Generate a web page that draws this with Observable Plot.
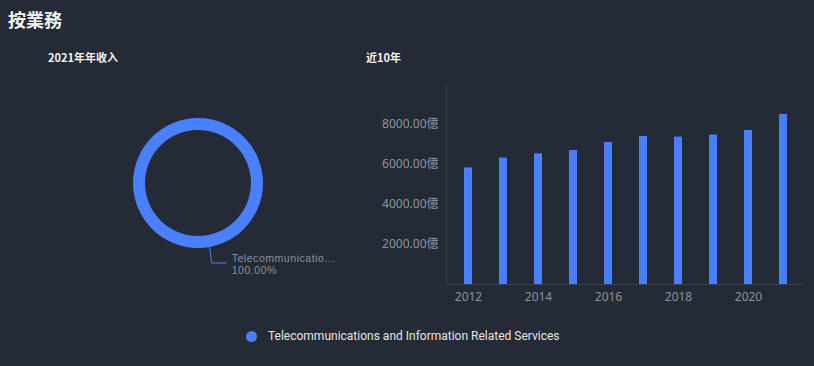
<!DOCTYPE html>
<html><head><meta charset="utf-8">
<script src="https://cdn.jsdelivr.net/npm/d3@7"></script>
<script src="https://cdn.jsdelivr.net/npm/@observablehq/plot@0.6"></script>
<style>
html,body{margin:0;padding:0;background:#252b36;width:814px;height:366px;overflow:hidden;font-family:"Noto Sans","Noto Sans CJK SC",sans-serif;}
#wrap{position:relative;width:814px;height:366px;}
.t{position:absolute;color:#f2f2f2;white-space:nowrap;}
#title{left:8px;top:6px;font-size:18px;font-weight:bold;font-family:"Noto Sans CJK SC",sans-serif;}
#sub1{left:48px;top:49px;font-size:11px;font-weight:bold;font-family:"Noto Sans CJK SC",sans-serif;}
#sub2{left:366px;top:49px;font-size:11px;font-weight:bold;font-family:"Noto Sans CJK SC",sans-serif;}
#donut{position:absolute;left:0;top:70px;}
#bars{position:absolute;left:360px;top:70px;}
#legend{position:absolute;left:246px;top:329px;font-size:12px;color:#e6e6e6;display:flex;align-items:center;font-family:Roboto,"Noto Sans",sans-serif;}
#legend .dot{width:11px;height:11px;border-radius:50%;background:#4a80ff;margin-right:11px;}
</style></head>
<body><div id="wrap">
<div class="t" id="title">按業務</div>
<div class="t" id="sub1">2021年年收入</div>
<div class="t" id="sub2">近10年</div>
<div id="donut"></div>
<div id="bars"></div>
<div id="legend"><span class="dot"></span><span id="legtext"></span></div>
</div>
<script>
// Data
const segments = ["Telecommunications and Information Related Services"];
const shares = [100];
const years = [2012,2013,2014,2015,2016,2017,2018,2019,2020,2021];
const revenue = [5830,6320,6530,6700,7100,7400,7370,7470,7700,8500];
const yTicks = [2000,4000,6000,8000];
const xTickYears = [2012,2014,2016,2018,2020];

const blue = "#4a80ff";
const axisColor = "#354052";
const labelColor = "#8a929e";

document.getElementById("legtext").textContent = segments[0];

// Donut
const pieData = segments.map((s,i)=>({name:s, value:shares[i]}));
const donutMark = () => {
  const g = d3.create("svg:g").attr("transform","translate(198,113)");
  const arcs = d3.pie().value(d=>d.value).sort(null)(pieData);
  const arc = d3.arc().innerRadius(53).outerRadius(65);
  g.selectAll("path.slice").data(arcs).join("path").attr("class","slice").attr("d",arc).attr("fill",blue);
  arcs.forEach(a=>{
    const ang = (a.startAngle + a.endAngle)/2 - 0.18;
    const x0 = 65*Math.sin(ang), y0 = -65*Math.cos(ang);
    g.append("path").attr("d",`M${x0},${y0}L${x0+2},${y0+16}L${x0+17},${y0+16}`)
      .attr("fill","none").attr("stroke",blue).attr("stroke-width",1);
    const name = a.data.name.length>16 ? a.data.name.slice(0,16)+"..." : a.data.name;
    const t = g.append("text").attr("fill",labelColor).attr("text-anchor","start")
      .attr("font-size",10.5).attr("letter-spacing","0.55px").attr("font-family","Liberation Sans, Arial, sans-serif");
    t.append("tspan").attr("x",x0+22).attr("y",y0+15).text(name);
    t.append("tspan").attr("x",x0+22).attr("y",y0+27).text(d3.format(".2f")(a.data.value/d3.sum(shares)*100)+"%");
  });
  return g.node();
};
document.getElementById("donut").append(Plot.plot({
  width:360,height:240,margin:0,
  style:{background:"transparent",fontFamily:"Noto Sans, Noto Sans CJK SC, sans-serif"},
  marks:[donutMark]
}));

// Bars
const table = years.map((y,i)=>({year:y, value:revenue[i]}));
const frameLines = (index, scales, values, dim) => {
  const g = d3.create("svg:g").attr("stroke",axisColor).attr("stroke-width",1);
  const x0 = dim.marginLeft+0.5, x1 = dim.width - dim.marginRight;
  const yb = Math.round(scales.y(0))+0.5, yt = scales.y(10000);
  g.append("line").attr("x1",x0).attr("x2",x0).attr("y1",yt).attr("y2",yb);
  g.append("line").attr("x1",x0).attr("x2",x1).attr("y1",yb).attr("y2",yb);
  return g.node();
};
document.getElementById("bars").append(Plot.plot({
  width:454,height:240,
  marginLeft:86,marginRight:10,marginTop:14,marginBottom:26,
  style:{background:"transparent",color:labelColor,fontSize:"12px",fontFamily:"Noto Sans, Noto Sans CJK SC, sans-serif"},
  x:{type:"band",domain:years,paddingInner:0.78,paddingOuter:0.39,label:null},
  y:{domain:[0,10000],label:null},
  marks:[
    Plot.barY(table,{x:"year",y:"value",fill:blue}),
    frameLines,
    Plot.axisY({ticks:yTicks,tickSize:0,tickPadding:8,tickFormat:d=>d3.format(".2f")(d)+"億",fill:labelColor,fontSize:12,label:null}),
    Plot.axisX({ticks:xTickYears,tickSize:0,tickPadding:8,tickFormat:d=>String(d),fill:labelColor,fontSize:12,label:null})
  ]
}));
</script>
</body></html>
